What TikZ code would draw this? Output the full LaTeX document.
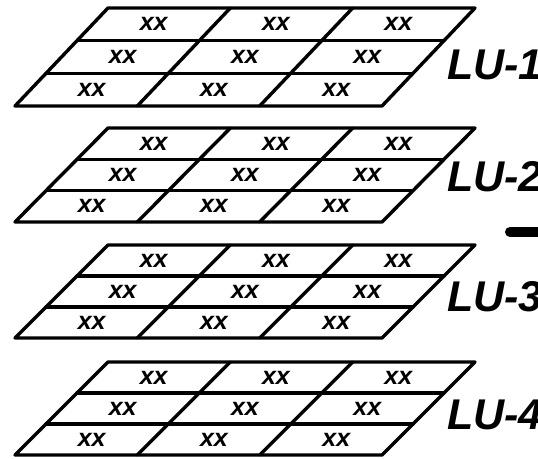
\documentclass[tikz,border=0pt]{standalone}
\usepackage{fontspec}
\newfontfamily\lufont{Liberation Sans}
\tikzset{
  grid line/.style={line width=3.4pt, line cap=round, line join=round},
  cell text/.style={font=\lufont\bfseries\itshape\fontsize{25}{25}\selectfont, inner sep=0pt},
  layer name/.style={font=\lufont\bfseries\itshape\fontsize{43}{43}\selectfont, anchor=west, inner sep=0pt}
}
\begin{document}
\begin{tikzpicture}[x=1pt,y=-1pt]
\useasboundingbox (0,0) rectangle (538,458);

% four stacked layers, each a slanted 3x3 grid
\foreach \l/\yt/\yb/\ly in {1/8/106/65, 2/128/222/177, 3/245/338/297, 4/362/455/415} {
  \pgfmathsetmacro{\h}{\yb-\yt}
  % outline
  \draw[grid line] (15,\yb) -- (382,\yb) -- (475,\yt) -- (108,\yt) -- cycle;
  % row and column separators
  \foreach \k in {1,2} {
    \draw[grid line] (15+31*\k,\yb-\h*\k/3) -- (382+31*\k,\yb-\h*\k/3);
    \draw[grid line] (15+122.33*\k,\yb) -- (108+122.33*\k,\yt);
  }
  % cell labels
  \foreach \r in {0,1,2} \foreach \c in {0,1,2} {
    \node[cell text] (xx-\l-\r\c) at (15+122.33*\c+61.17+31*\r+15.5, \yb-\h*\r/3-\h/6) {xx};
  }
  \node[layer name] (lu\l) at (447,\ly) {LU-\l};
}

% dash at the right border
\draw[line width=10pt, line cap=round] (510,232) -- (560,232);

\end{tikzpicture}
\end{document}
